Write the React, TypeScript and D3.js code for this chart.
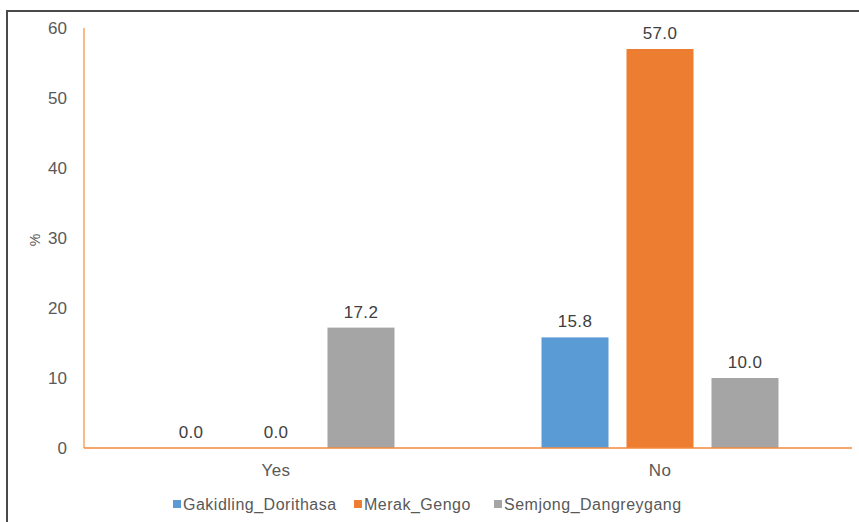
import React from "react";
import * as d3 from "d3";

const categories = ["Yes", "No"];
const seriesNames = ["Gakidling_Dorithasa", "Merak_Gengo", "Semjong_Dangreygang"];
const seriesColors = ["#5B9BD5", "#ED7D31", "#A5A5A5"];
const valuesYes = [0.0, 0.0, 17.2];
const valuesNo = [15.8, 57.0, 10.0];
const yTicks = [0, 10, 20, 30, 40, 50, 60];

const W = 859;
const H = 522;
const left = 84;
const right = 852;
const top = 28;
const bottom = 448;

export default function App() {
  const x0 = d3.scaleBand<string>().domain(categories).range([left, right]).paddingInner(0).paddingOuter(0);
  const y = d3.scaleLinear().domain([0, 60]).range([bottom, top]);
  const step = 85;
  const barW = 67;
  const data = [valuesYes, valuesNo];
  const font = "Arial, 'Liberation Sans', sans-serif";
  const legendX = [173, 354, 494];

  return (
    <svg width={W} height={H} style={{ position: "absolute", left: 0, top: 0 }}>
      <rect x={0} y={0} width={W} height={H} fill="#fff" />
      <rect x={7} y={11} width={W} height={H} fill="none" stroke="#4a4a4a" strokeWidth={2} />
      {yTicks.map((t) => (
        <text key={t} x={67} y={y(t) + 6} textAnchor="end" fontSize={17} fill="#595959" fontFamily={font}>
          {t}
        </text>
      ))}
      <text
        transform={`translate(40,240) rotate(-90)`}
        textAnchor="middle"
        fontSize={14}
        fill="#595959"
        fontFamily={font}
      >
        %
      </text>
      {categories.map((c, ci) => {
        const cx = (x0(c) as number) + x0.bandwidth() / 2;
        return (
          <g key={c}>
            {data[ci].map((v, si) => {
              const bx = cx + (si - 1) * step - barW / 2;
              return (
                <g key={si}>
                  {v > 0 && (
                    <rect x={bx} y={y(v)} width={barW} height={bottom - y(v)} fill={seriesColors[si]} />
                  )}
                  <text
                    x={bx + barW / 2}
                    y={y(v) - 10}
                    textAnchor="middle"
                    fontSize={17}
                    letterSpacing={0.3}
                    fill="#404040"
                    fontFamily={font}
                  >
                    {v.toFixed(1)}
                  </text>
                </g>
              );
            })}
            <text x={cx} y={476} textAnchor="middle" fontSize={17} letterSpacing={0.4} fill="#595959" fontFamily={font}>
              {c}
            </text>
          </g>
        );
      })}
      <line x1={left} x2={left} y1={top} y2={bottom} stroke="#F58A3A" strokeWidth={1.2} />
      <line x1={left} x2={right} y1={bottom} y2={bottom} stroke="#F58A3A" strokeWidth={1.5} />
      {seriesNames.map((n, i) => (
        <g key={n}>
          <rect x={legendX[i]} y={500} width={8} height={8} fill={seriesColors[i]} />
          <text x={legendX[i] + 10} y={510} fontSize={16} letterSpacing={0.5} fill="#595959" fontFamily={font}>
            {n}
          </text>
        </g>
      ))}
    </svg>
  );
}
